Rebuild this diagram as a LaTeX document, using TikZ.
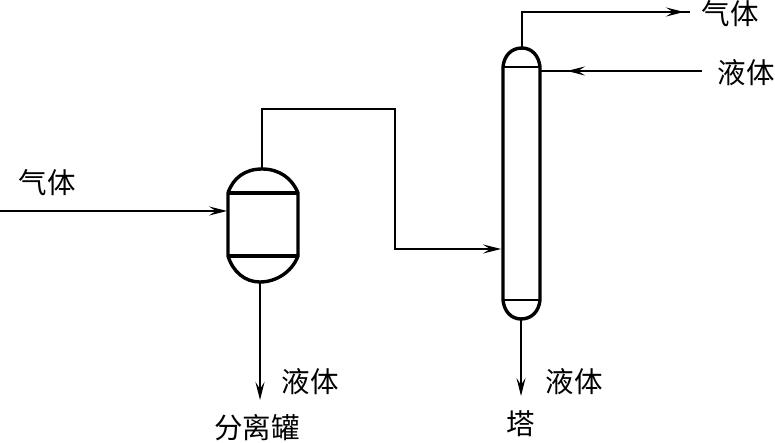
\documentclass[tikz,border=0pt]{standalone}
\usepackage{fontspec}
\newfontfamily\cjk{Noto Sans CJK SC}
\usetikzlibrary{arrows.meta}
\tikzset{
  wall/.style={line width=3.4bp, black, line join=round},
  pipe/.style={line width=1.1bp, black},
  flow/.style={line width=1.1bp, black, -{Stealth[length=18bp, width=9bp, inset=7bp]}},
  label/.style={inner sep=0pt, font=\cjk\fontsize{28.5bp}{28.5bp}\selectfont}
}
\begin{document}
\begin{tikzpicture}[x=1bp, y=-1bp]
        \useasboundingbox (0,0) rectangle (775,443);

        % Separator corners
        \coordinate (S1) at (228, 193);  % Upper left
        \coordinate (S2) at (298, 193);  % Upper right
        \coordinate (S3) at (298, 256);  % Lower right
        \coordinate (S4) at (228, 256);  % Lower left
        \coordinate (Stop) at (262, 169);
        \coordinate (Sbot) at (260, 282);

        % Tower corners
        \coordinate (T1) at (503, 67);
        \coordinate (T2) at (540, 67);
        \coordinate (T3) at (540, 300);
        \coordinate (T4) at (503, 300);
        \coordinate (Ttop) at (522, 48);
        \coordinate (Tbot) at (521, 319);

        % Draw separator
        \draw[wall] (S1) -- (S4) .. controls (233, 272) and (245, 282) .. (Sbot)
            .. controls (276, 282) and (292, 272) .. (S3) -- (S2)
            .. controls (292, 178) and (279, 169) .. (Stop)
            .. controls (245, 169) and (233, 178) .. (S1);
        \draw[wall] (S1) -- (S2);
        \draw[wall] (S4) -- (S3);

        % Draw tower
        \draw[wall] (T1) -- (T4) .. controls (504, 311) and (511, 319) .. (Tbot)
            .. controls (532, 319) and (539, 311) .. (T3) -- (T2)
            .. controls (539, 56) and (532, 48) .. (Ttop)
            .. controls (511, 48) and (504, 56) .. (T1);
        \draw[line width=2.4bp] (T1) -- (T2);
        \draw[line width=2.4bp] (T4) -- (T3);

        % Line ends and bends
        \coordinate (G1) at (0, 211);
        \coordinate (G2) at (227, 211);
        \coordinate (B1) at (262, 109);
        \coordinate (B2) at (395, 109);
        \coordinate (B3) at (395, 249);
        \coordinate (B4) at (501, 249);
        \coordinate (C1) at (522, 12);
        \coordinate (C2) at (684, 12);
        \coordinate (C3) at (690, 12);
        \coordinate (D1) at (702, 71);
        \coordinate (D2) at (567, 71);
        \coordinate (D3) at (541, 71);
        \coordinate (E1) at (260, 400);
        \coordinate (F1) at (521, 396);

        % Draw lines
        \draw[flow] (G1) -- (G2);
        \draw[flow] (Stop) -- (B1) -- (B2) -- (B3) -- (B4);
        \draw[flow] (Ttop) -- (C1) -- (C2);
        \draw[pipe] (C1) -- (C3);
        \draw[flow] (D1) -- (D2);
        \draw[pipe] (D1) -- (D3);
        \draw[flow] (Sbot) -- (E1);
        \draw[flow] (Tbot) -- (F1);

        % Labels
        \node[label] (gasin) at (47, 183) {气体};
        \node[label] (gasout) at (730, 14) {气体};
        \node[label] (liqin) at (746, 73) {液体};
        \node[label] (liqsep) at (310, 382) {液体};
        \node[label] (liqtow) at (574, 382) {液体};
        \node[label] (sepname) at (257, 428) {分离罐};
        \node[label] (towname) at (521, 424) {塔};
\end{tikzpicture}
\end{document}
